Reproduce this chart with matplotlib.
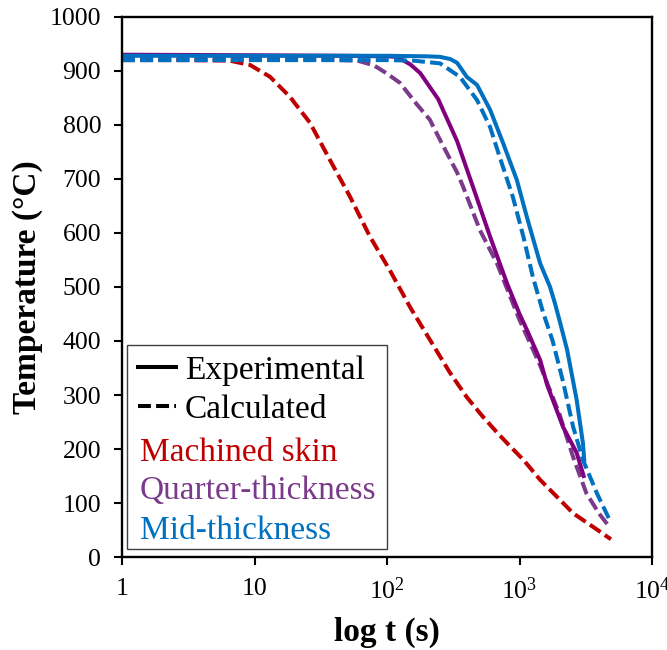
import matplotlib
matplotlib.use("Agg")
import matplotlib.pyplot as plt
from matplotlib.lines import Line2D
from matplotlib.patches import Rectangle

plt.rcParams['font.family'] = ['Liberation Serif', 'DejaVu Serif']
plt.rcParams['mathtext.fontset'] = 'custom'
plt.rcParams['mathtext.rm'] = 'Liberation Serif'

# machined skin, calculated
skin_t = [1, 3, 6.5, 9.25, 13.1, 18.5, 26.2, 37.1, 52.6, 74.4, 105, 149, 211, 299,
          400, 520, 680, 850, 1070, 1430, 2000, 2540, 3300, 4000, 4570, 4900]
skin_T = [920, 920, 919, 911, 889, 852, 804, 735, 667, 593, 531, 463, 402, 341,
          296, 262, 230, 205, 180, 143, 107, 81, 62, 48, 38, 33]

# quarter-thickness, experimental
qexp_t = [1, 10, 50, 100, 119, 150, 178, 243, 338, 446, 600, 804, 1000, 1140,
          1430, 1620, 2130, 2700, 3050]
qexp_T = [930, 929, 928, 927, 926, 912, 896, 848, 770, 685, 593, 507, 450, 420,
          365, 318, 241, 193, 150]

# quarter-thickness, calculated
qcal_t = [1, 10, 30, 60, 80, 100, 125, 168, 210, 264, 338, 376, 503, 675, 1000,
          1430, 2000, 2540, 3200, 4000, 4800]
qcal_T = [922, 922, 921, 919, 910, 895, 878, 838, 810, 762, 712, 685, 605, 544, 439,
          355, 265, 185, 118, 80, 55]

# mid-thickness, experimental
mexp_t = [1, 10, 100, 200, 251, 300, 338, 400, 478, 600, 750, 955, 1135, 1430,
          1700, 1850, 2030, 2290, 2700, 3010, 3080]
mexp_T = [928, 928, 928, 927, 926, 922, 915, 889, 874, 828, 767, 698, 630, 544,
          500, 470, 433, 383, 291, 211, 180]

# mid-thickness, calculated
mcal_t = [1, 10, 100, 158, 251, 355, 478, 600, 710, 890, 1070, 1260, 1510, 1780,
          2130, 2540, 3010, 3840, 4800]
mcal_T = [920, 920, 920, 919, 914, 889, 846, 796, 740, 667, 593, 519, 452, 400,
          325, 241, 180, 118, 68]

x_ticks = [1, 10, 100, 1000, 10000]
x_ticklabels = ['1', '10', r'$\mathregular{10^{2}}$', r'$\mathregular{10^{3}}$',
                r'$\mathregular{10^{4}}$']
y_ticks = list(range(0, 1001, 100))

c_red = '#C00000'
c_purple = '#800080'
c_purple_light = '#7B3A8A'
c_blue = '#0070C0'

fig = plt.figure(figsize=(6.67, 6.5), dpi=100)
ax = fig.add_axes([0.183, 0.143, 0.7945, 0.831])

lw = 2.9
dash = (3.2, 1.3)
ax.plot(skin_t, skin_T, color=c_red, lw=lw, dashes=dash)
ax.plot(qcal_t, qcal_T, color=c_purple_light, lw=lw, dashes=dash)
ax.plot(qexp_t, qexp_T, color=c_purple, lw=lw)
ax.plot(mcal_t, mcal_T, color=c_blue, lw=lw, dashes=dash)
ax.plot(mexp_t, mexp_T, color=c_blue, lw=lw)

ax.set_xscale('log')
ax.set_xlim(1, 10000)
ax.set_ylim(0, 1000)
ax.set_xticks(x_ticks)
ax.set_xticklabels(x_ticklabels)
ax.minorticks_off()
ax.set_yticks(y_ticks)
ax.tick_params(axis='both', direction='out', length=6, width=1.5, labelsize=18.5)
ax.tick_params(axis='y', pad=9)
ax.tick_params(axis='x', pad=9)
for s in ax.spines.values():
    s.set_linewidth(1.7)

ax.set_xlabel('log t (s)', fontsize=24, fontweight='bold', labelpad=9)
ax.set_ylabel('Temperature (°C)', fontsize=24, fontweight='bold', labelpad=5)

# legend box
ax.add_patch(Rectangle((0.0094, 0.0148), 0.4906, 0.378, transform=ax.transAxes,
                       fill=False, edgecolor='#404040', lw=1.0, zorder=5))
handles = [Line2D([], [], color='black', lw=lw),
           Line2D([], [], color='black', lw=lw, dashes=dash)]
ax.legend(handles, ['Experimental', 'Calculated'], loc='upper left',
          bbox_to_anchor=(0.03, 0.374), frameon=False, fontsize=24,
          handlelength=1.15, handletextpad=0.25, labelspacing=0.27,
          borderpad=0, borderaxespad=0)
ax.text(0.034, 0.193, 'Machined skin', color=c_red, fontsize=24,
        transform=ax.transAxes, va='center')
ax.text(0.034, 0.123, 'Quarter-thickness', color=c_purple_light, fontsize=24,
        transform=ax.transAxes, va='center')
ax.text(0.034, 0.049, 'Mid-thickness', color=c_blue, fontsize=24,
        transform=ax.transAxes, va='center')

fig.savefig('out.png', dpi=100)
